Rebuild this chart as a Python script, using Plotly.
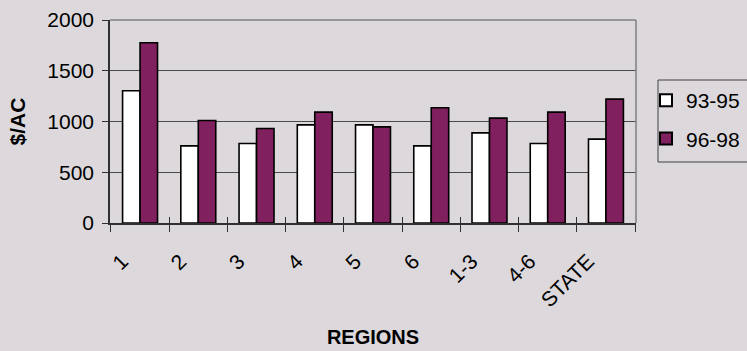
import plotly.graph_objects as go

categories = ["1", "2", "3", "4", "5", "6", "1-3", "4-6", "STATE"]
vals_93_95 = [1303, 760, 783, 967, 967, 760, 888, 783, 826]
vals_96_98 = [1776, 1010, 931, 1092, 947, 1135, 1033, 1092, 1220]
y_ticks = [0, 500, 1000, 1500, 2000]

BG = "#DCD8DC"
PURPLE = "#80205E"
FONT = "Liberation Sans, Arial, sans-serif"

fig = go.Figure()
fig.add_trace(go.Bar(
    x=categories, y=vals_93_95, name="93-95",
    marker=dict(color="white", line=dict(color="black", width=1.6)),
    legendgroup="a",
))
fig.add_trace(go.Bar(
    x=categories, y=vals_96_98, name="96-98",
    marker=dict(color=PURPLE, line=dict(color="black", width=1.6)),
    legendgroup="b",
))
# helper trace for the inside half of the crossing x ticks
fig.add_trace(go.Scatter(
    x=categories, y=[None] * len(categories), xaxis="x2", yaxis="y",
    showlegend=False, hoverinfo="skip", mode="markers",
))

fig.update_layout(
    width=747, height=351,
    margin=dict(l=110, r=111, t=20, b=128, autoexpand=False),
    paper_bgcolor=BG, plot_bgcolor=BG,
    font=dict(family=FONT, size=21, color="black"),
    barmode="group", bargap=0.4, bargroupgap=0,
    showlegend=True,
    legend=dict(
        x=(646 - 110) / 526, xanchor="left", y=(223 - 80) / 203, yanchor="top",
        bgcolor="rgba(0,0,0,0)", borderwidth=0,
        font=dict(family=FONT, size=21, color="black"),
        tracegroupgap=8, itemsizing="constant",
    ),
    xaxis=dict(
        type="category", categoryorder="array", categoryarray=categories,
        tickson="boundaries", ticks="outside", ticklen=7, tickwidth=1, tickcolor="#303030",
        tickangle=-45, showline=True, linecolor="#303030", linewidth=1.5,
        showgrid=False, zeroline=False, automargin=False,
        ticklabelshift=-18, ticklabelstandoff=16,
        title=dict(text="<b>REGIONS</b>", font=dict(family=FONT, size=20), standoff=20),
        tickfont=dict(family=FONT, size=21),
    ),
    xaxis2=dict(
        type="category", categoryorder="array", categoryarray=categories,
        overlaying="x", anchor="y", side="bottom",
        tickson="boundaries", ticks="inside", ticklen=6, tickwidth=1, tickcolor="#303030",
        showticklabels=False, showgrid=False, zeroline=False, showline=False,
        matches="x", automargin=False,
    ),
    yaxis=dict(
        range=[0, 2000], tickvals=y_ticks, ticks="outside", ticklen=6, tickwidth=1,
        tickcolor="#303030", showline=True, linecolor="#303030", linewidth=1.5,
        showgrid=True, gridcolor="#4A4A4A", gridwidth=1, zeroline=False,
        ticklabelstandoff=4, automargin=False,
        title=dict(text="<b>$/AC</b>", font=dict(family=FONT, size=21), standoff=16),
        tickfont=dict(family=FONT, size=21),
    ),
    shapes=[
        dict(type="line", xref="paper", yref="paper", x0=0, x1=1, y0=1, y1=1,
             line=dict(color="#808080", width=1.5)),
        dict(type="line", xref="paper", yref="paper", x0=1, x1=1, y0=0, y1=1,
             line=dict(color="#808080", width=1.5)),
        # legend frame
        dict(type="rect", xref="paper", yref="paper",
             x0=(658 - 110) / 526, x1=(748 - 110) / 526,
             y0=(223 - 162) / 203, y1=(223 - 80) / 203,
             line=dict(color="#404040", width=1), fillcolor="rgba(0,0,0,0)",
             layer="above"),
    ],
)

fig.write_html("out.html")
